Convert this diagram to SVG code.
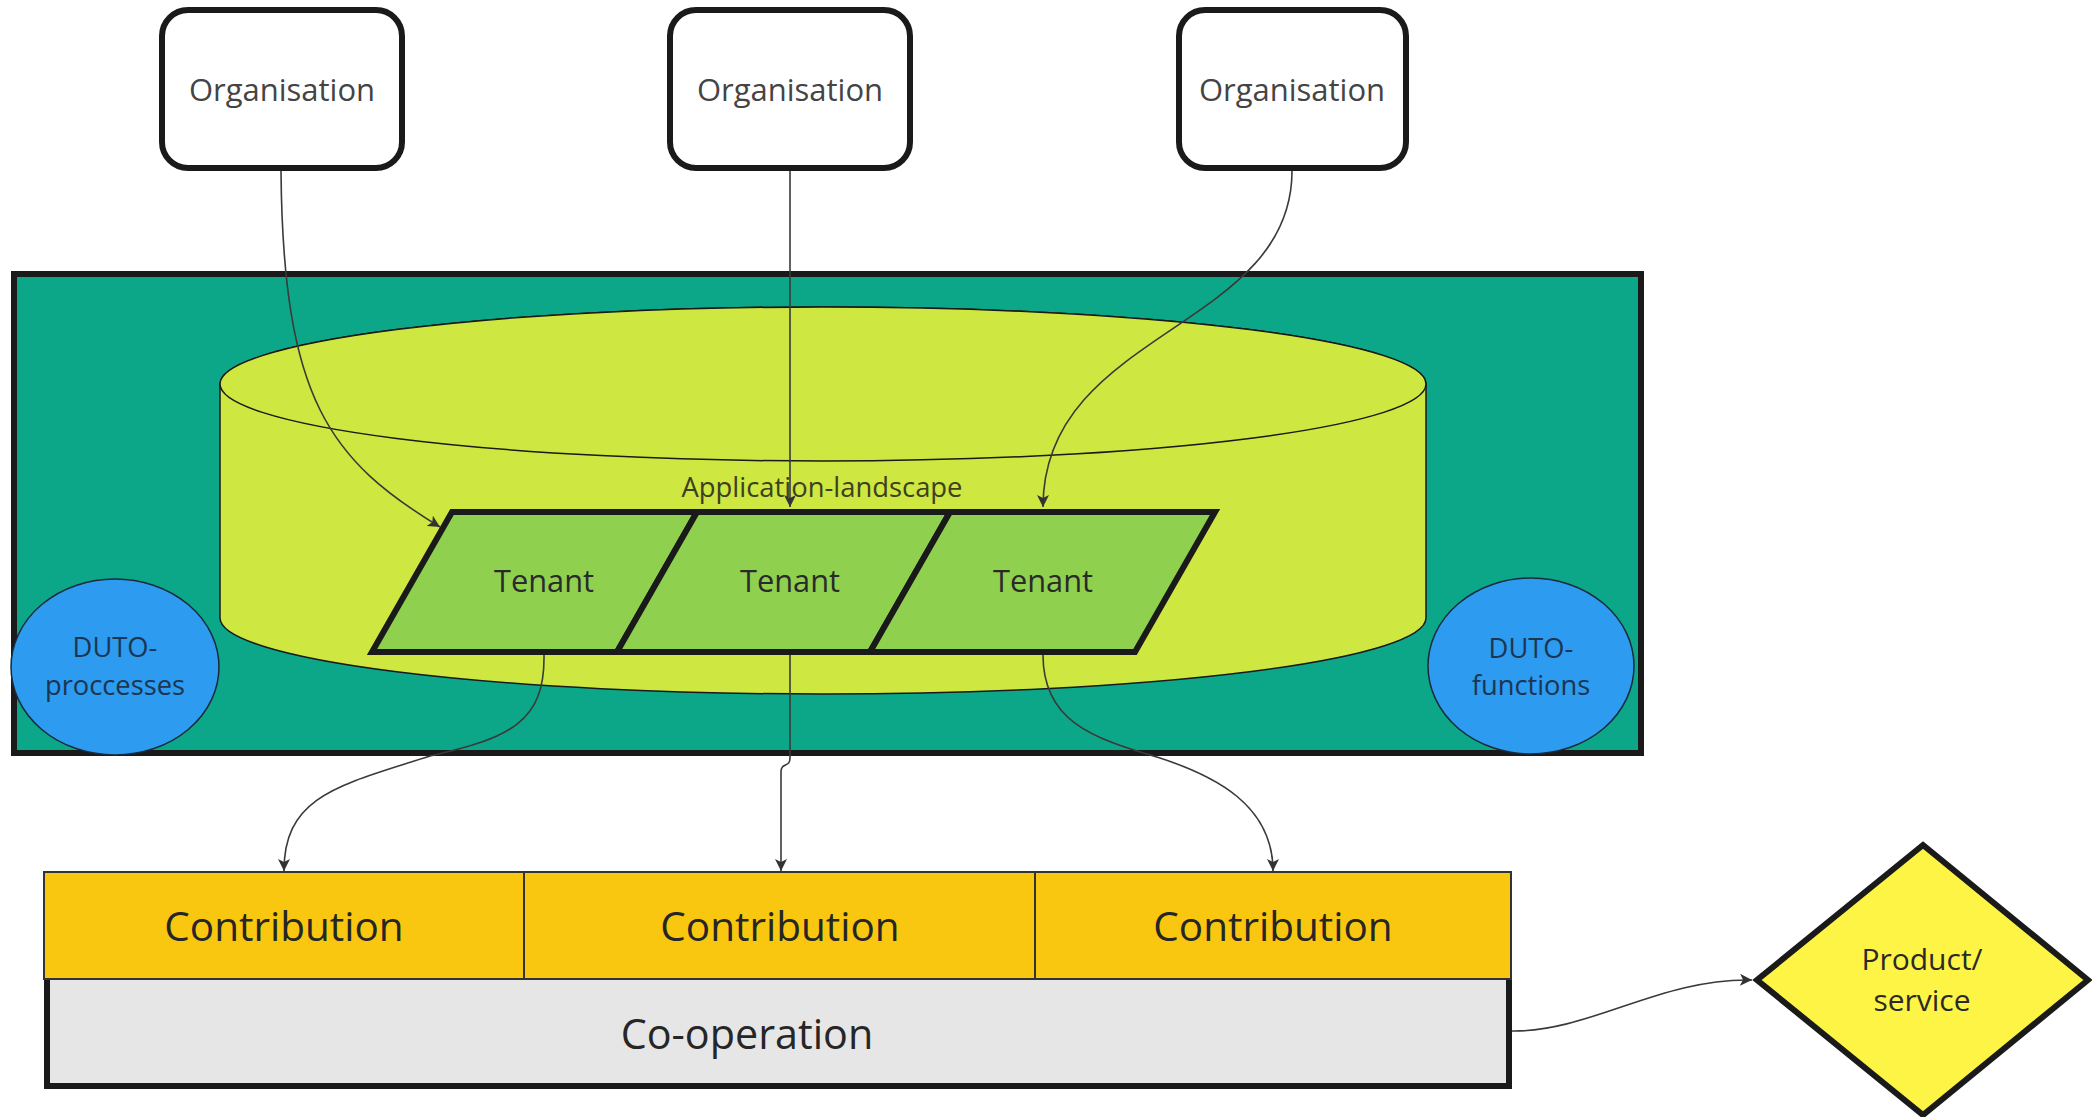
<svg xmlns="http://www.w3.org/2000/svg" width="2092" height="1117" viewBox="0 0 2092 1117">
<defs>
<style>
text{font-family:"Open Sans","Noto Sans","Liberation Sans",sans-serif;text-anchor:middle;}
.org{fill:#fff;stroke:#1a1a1a;stroke-width:6;}
.orgt{font-size:31px;fill:#444;}
.ten{fill:#8fd14f;stroke:#1a1a1a;stroke-width:6;stroke-linejoin:miter;}
.tent{font-size:30.8px;fill:#2a2a2a;}
.duto{fill:#2d9bf0;stroke:#1a2a3a;stroke-width:1.5;}
.dutot{font-size:27.3px;fill:#1c3550;}
.con{fill:#fac710;stroke:#333;stroke-width:2;}
.cont{font-size:40.5px;fill:#262626;}
.edge{fill:none;stroke:#3a3a3a;stroke-width:1.6;marker-end:url(#ah);}
</style>
<marker id="ah" markerUnits="userSpaceOnUse" markerWidth="14" markerHeight="12" refX="12" refY="6" orient="auto">
<path d="M0,0 L12,6 L0,12 L3,6 Z" fill="#333"/>
</marker>
</defs>

<g id="platform">
<rect x="14" y="274" width="1627" height="479" fill="#0ca789" stroke="#1a1a1a" stroke-width="6"/>
</g>

<g id="application-landscape">
<path d="M220,384 A603,77 0 0 1 1426,384 L1426,618 A603,76 0 0 1 220,618 Z" fill="#cee741" stroke="#1a1a1a" stroke-width="1.5"/>
<ellipse cx="823" cy="384" rx="603" ry="77" fill="#cee741" stroke="#1a1a1a" stroke-width="1.5"/>
<text x="822" y="497" style="font-size:27.4px;fill:#3d4020">Application-landscape</text>
</g>

<g id="duto-processes">
<ellipse class="duto" cx="115" cy="667" rx="104" ry="88"/>
<text class="dutot" x="115" y="657">DUTO-</text>
<text class="dutot" x="115" y="695">proccesses</text>
</g>

<g id="duto-functions">
<ellipse class="duto" cx="1531" cy="666" rx="103" ry="88"/>
<text class="dutot" x="1531" y="658">DUTO-</text>
<text class="dutot" x="1531" y="695">functions</text>
</g>

<g id="tenant-1">
<polygon class="ten" points="452,512 697,512 617,652 372,652"/>
<text class="tent" x="544" y="592">Tenant</text>
</g>
<g id="tenant-2">
<polygon class="ten" points="697,512 950,512 870,652 617,652"/>
<text class="tent" x="790" y="592">Tenant</text>
</g>
<g id="tenant-3">
<polygon class="ten" points="950,512 1215,512 1135,652 870,652"/>
<text class="tent" x="1043" y="592">Tenant</text>
</g>

<g id="organisation-1">
<rect class="org" x="162" y="10" width="240" height="158" rx="26"/>
<text class="orgt" x="282" y="101">Organisation</text>
</g>
<g id="organisation-2">
<rect class="org" x="670" y="10" width="240" height="158" rx="26"/>
<text class="orgt" x="790" y="101">Organisation</text>
</g>
<g id="organisation-3">
<rect class="org" x="1179" y="10" width="227" height="158" rx="26"/>
<text class="orgt" x="1292" y="101">Organisation</text>
</g>

<g id="co-operation">
<rect x="47" y="970" width="1462" height="116" fill="#e6e6e6" stroke="#1a1a1a" stroke-width="6"/>
<text x="747" y="1049" style="font-size:41.3px;fill:#262626">Co-operation</text>
</g>

<g id="contribution-1">
<rect class="con" x="44" y="872" width="480" height="107"/>
<text class="cont" x="284" y="941">Contribution</text>
</g>
<g id="contribution-2">
<rect class="con" x="524" y="872" width="511" height="107"/>
<text class="cont" x="780" y="941">Contribution</text>
</g>
<g id="contribution-3">
<rect class="con" x="1035" y="872" width="476" height="107"/>
<text class="cont" x="1273" y="941">Contribution</text>
</g>

<g id="product-service">
<polygon points="1923,845 2088,980 1923,1115 1757,980" fill="#fef445" stroke="#1a1a1a" stroke-width="6"/>
<text x="1922" y="970" style="font-size:30px;fill:#2a2a2a">Product/</text>
<text x="1922" y="1011" style="font-size:30px;fill:#2a2a2a">service</text>
</g>

<g id="connectors">
<path class="edge" d="M281,171 C283,400 330,460 440,527"/>
<path class="edge" d="M790,171 L790,507"/>
<path class="edge" d="M1292,171 C1292,330 1043,330 1043,507"/>
<path class="edge" d="M544,655 C545,722 510,738 430,756 C340,785 284,795 284,871"/>
<path class="edge" d="M790,655 L790,758 C790,768 781,762 781,772 L781,871"/>
<path class="edge" d="M1043,655 C1043,720 1090,738 1160,758 C1215,776 1273,805 1273,871"/>
<path class="edge" d="M1512,1031 C1590,1032 1660,978 1752,980"/>
</g>
</svg>
